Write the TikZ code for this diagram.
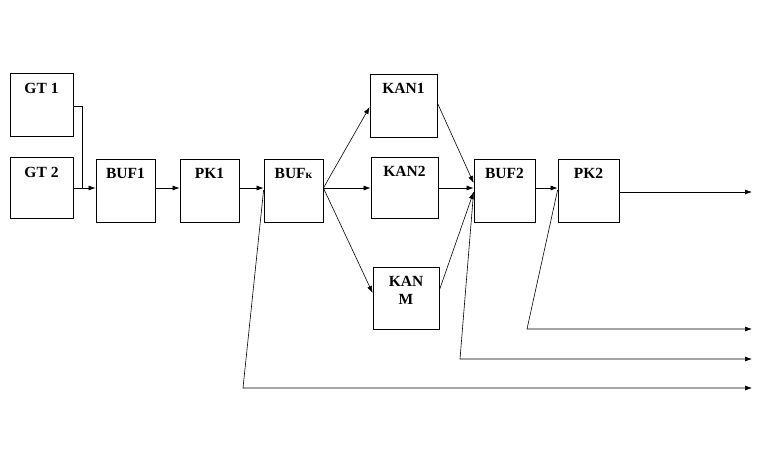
\documentclass[tikz,border=0pt]{standalone}
\usepackage{fontspec}
\setmainfont{Liberation Serif}
\usetikzlibrary{arrows.meta,calc}
\begin{document}
\begin{tikzpicture}[x=1pt,y=-1pt,
  blk/.style={draw, line width=0.8pt, inner sep=0pt},
  ttl/.style={font=\fontsize{15.5}{18}\selectfont\bfseries, align=center, anchor=base, inner sep=0pt},
  con/.style={line width=0.6pt},
  arr/.style={con, -{Latex[length=7pt,width=5pt]}}]
\useasboundingbox (0,0) rectangle (770,456);
% boxes
\node[blk, minimum width=63, minimum height=63] (gt1) at (41.5,104.5) {};
\node[blk, minimum width=63, minimum height=61] (gt2) at (41.5,187.5) {};
\node[blk, minimum width=59, minimum height=63] (buf1) at (125.5,190.5) {};
\node[blk, minimum width=59, minimum height=63] (pk1) at (209.5,190.5) {};
\node[blk, minimum width=59, minimum height=63] (bufk) at (293.5,190.5) {};
\node[blk, minimum width=67, minimum height=63] (kan1) at (403.5,105.5) {};
\node[blk, minimum width=67, minimum height=61] (kan2) at (404.5,187.5) {};
\node[blk, minimum width=66, minimum height=62] (kanm) at (406,298) {};
\node[blk, minimum width=61, minimum height=63] (buf2) at (504.5,190.5) {};
\node[blk, minimum width=61, minimum height=63] (pk2) at (588.5,190.5) {};
% titles
\node[ttl] (tgt1) at ($(gt1.north)+(0,21)$) {GT 1};
\node[ttl] (tgt2) at ($(gt2.north)+(0,21)$) {GT 2};
\node[ttl] (tbuf1) at ($(buf1.north)+(0,20)$) {BUF1};
\node[ttl] (tpk1) at ($(pk1.north)+(0,20)$) {PK1};
\node[ttl] (tbufk) at ($(bufk.north)+(0,20)$) {BUF{\fontsize{11.5}{12}\selectfont к}};
\node[ttl] (tkan1) at ($(kan1.north)+(0,20)$) {KAN1};
\node[ttl] (tkan2) at ($(kan2.north)+(0,20)$) {KAN2};
\node[ttl] (tkanm) at ($(kanm.north)+(0,38)$) {KAN\\M};
\node[ttl] (tbuf2) at ($(buf2.north)+(0,20)$) {BUF2};
\node[ttl] (tpk2) at ($(pk2.north)+(0,20)$) {PK2};
% helper coordinates
\coordinate (m) at (0,188);
\coordinate (j1) at (82,106);
\coordinate (j) at (82,188);
\coordinate (ok) at (752,192);
\coordinate (b1) at (243,388);
\coordinate (e1) at (752,388);
\coordinate (b2) at (460,359);
\coordinate (e2) at (752,359);
\coordinate (b3) at (527,329);
\coordinate (e3) at (752,329);
% connectors
\draw[con] (gt1.east |- j1) -- (j1) -- (j);
\draw[arr] (gt2.east |- m) -- (buf1.west |- m);
\draw[arr] (buf1.east |- m) -- (pk1.west |- m);
\draw[arr] (pk1.east |- m) -- (bufk.west |- m);
\draw[arr] (bufk.east |- m) -- ([yshift=-1.5]kan1.west);
\draw[arr] (bufk.east |- m) -- (kan2.west |- m);
\draw[arr] (bufk.east |- m) -- ([yshift=5]kanm.west);
\draw[arr] ([yshift=2.5]kan1.east) -- ([yshift=7.5]buf2.west);
\draw[arr] (kan2.east |- m) -- (buf2.west |- m);
\draw[arr] ([yshift=8]kanm.east) -- ([yshift=-1.5]buf2.west);
\draw[arr] (buf2.east |- m) -- (pk2.west |- m);
\draw[arr] (pk2.east |- ok) -- (ok);
\draw[arr] ([yshift=0.5]bufk.west) -- (b1) -- (e1);
\draw[arr] ([yshift=-1.5]buf2.west) -- (b2) -- (e2);
\draw[arr] ([yshift=0.5]pk2.west) -- (b3) -- (e3);
\end{tikzpicture}
\end{document}
